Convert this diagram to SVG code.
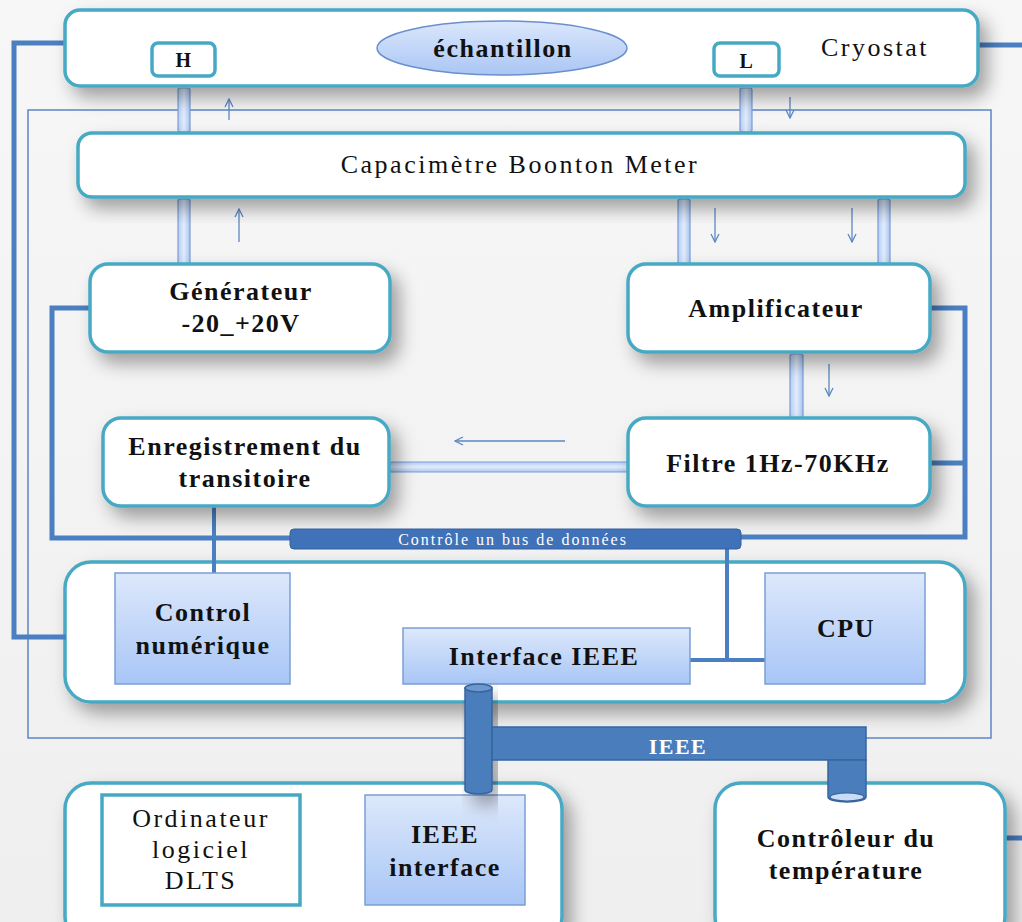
<svg xmlns="http://www.w3.org/2000/svg" width="1022" height="922" viewBox="0 0 1022 922">
<defs>
<linearGradient id="bg" x1="0" y1="0" x2="0" y2="1"><stop offset="0" stop-color="#f7f7f7"/><stop offset="1" stop-color="#efefef"/></linearGradient>
<linearGradient id="blueg" x1="0" y1="0" x2="0" y2="1"><stop offset="0" stop-color="#dde8fb"/><stop offset="1" stop-color="#a8c6f6"/></linearGradient>
<linearGradient id="pill" x1="0" y1="0" x2="1" y2="0"><stop offset="0" stop-color="#b4cdf5"/><stop offset="0.5" stop-color="#e2ecfc"/><stop offset="1" stop-color="#a9c5f2"/></linearGradient>
<linearGradient id="pillh" x1="0" y1="0" x2="0" y2="1"><stop offset="0" stop-color="#b4cdf5"/><stop offset="0.5" stop-color="#e2ecfc"/><stop offset="1" stop-color="#a9c5f2"/></linearGradient>
<linearGradient id="ell" x1="0" y1="0" x2="0" y2="1"><stop offset="0" stop-color="#dbe7fc"/><stop offset="1" stop-color="#aac6f4"/></linearGradient>
<filter id="sh" x="-10%" y="-20%" width="130%" height="160%"><feDropShadow dx="8" dy="10" stdDeviation="9" flood-color="#000" flood-opacity="0.35"/></filter>
<marker id="ah" viewBox="0 0 10 10" refX="9" refY="5" markerWidth="10" markerHeight="10" orient="auto" markerUnits="userSpaceOnUse"><path d="M1,1 L9,5 L1,9" fill="none" stroke="#5b87c5" stroke-width="1.3"/></marker>
<style>
.box{fill:#fff;stroke:#46a9c3;stroke-width:3.5}
.inner{fill:url(#blueg);stroke:#7b9fd5;stroke-width:1.5}
.t{font-family:"Liberation Serif",serif;font-size:26px;fill:#111;text-anchor:middle;letter-spacing:2.5px}
.b{font-weight:bold;letter-spacing:1.5px}
.w{fill:#fff}
.thick{fill:none;stroke:#4a7fc1;stroke-width:5;stroke-linejoin:miter}
.pil{fill:url(#pill);stroke:#7b9fd5;stroke-width:1.2}
.pilh{fill:url(#pillh);stroke:#7b9fd5;stroke-width:1.2}
.arr{stroke:#5b87c5;stroke-width:1.3;fill:none;marker-end:url(#ah)}
.cyl{fill:#4a7dbb;stroke:#38649e;stroke-width:1.5}
</style>
</defs>
<rect width="1022" height="922" fill="url(#bg)"/>

<g id="controle">
<rect class="box" x="65" y="562" width="900" height="140" rx="26" filter="url(#sh)"/>
</g>
<g id="ordinateur-group">
<rect class="box" x="65" y="783" width="497" height="160" rx="26" filter="url(#sh)"/>
</g>

<g id="connectors">
<rect x="28" y="110" width="963" height="628" fill="none" stroke="#5b87c5" stroke-width="1.5"/>
<path class="thick" d="M66,43 H14 V637 H66"/>
<path class="thick" d="M977,45 H1022"/>
<path class="thick" d="M91,308 H52 V538 H292"/>
<path class="thick" d="M929,308 H965 V537 H740"/>
<path class="thick" d="M929,463 H965"/>
<path d="M214,506 V574" stroke="#4a7fc1" stroke-width="4"/>
<path d="M727,549 V660 M690,660 H765" stroke="#4a7fc1" stroke-width="4" fill="none"/>
<path class="thick" d="M1003,838 H1022"/>
<rect class="pil" x="178" y="88" width="12" height="44" rx="2"/>
<rect class="pil" x="740" y="88" width="12" height="44" rx="2"/>
<rect class="pil" x="178" y="199" width="12" height="66" rx="2"/>
<rect class="pil" x="678" y="199" width="12" height="66" rx="2"/>
<rect class="pil" x="878" y="199" width="12" height="66" rx="2"/>
<rect class="pil" x="790" y="354" width="13" height="66" rx="2"/>
<rect class="pilh" x="390" y="462" width="240" height="10" rx="2"/>
<path class="arr" d="M229,120 V99"/>
<path class="arr" d="M790,97 V118"/>
<path class="arr" d="M239,242 V209"/>
<path class="arr" d="M715,208 V242"/>
<path class="arr" d="M852,208 V242"/>
<path class="arr" d="M829,364 V396"/>
<path class="arr" d="M565,441 H455"/>
</g>

<g id="cryostat">
<rect class="box" x="65" y="10" width="913" height="76" rx="15" filter="url(#sh)"/>
<ellipse cx="502" cy="48" rx="125" ry="27" fill="url(#ell)" stroke="#6a8fcc" stroke-width="1.5"/>
<text class="t b" x="503" y="57">échantillon</text>
<rect x="152" y="43" width="63" height="33" rx="6" fill="#fff" stroke="#46a9c3" stroke-width="3.5"/>
<text class="t b" x="184" y="67" style="font-size:20px">H</text>
<rect x="714" y="43" width="65" height="33" rx="6" fill="#fff" stroke="#46a9c3" stroke-width="3.5"/>
<text class="t b" x="747" y="68" style="font-size:20px">L</text>
<text class="t" x="875" y="56">Cryostat</text>
</g>

<g id="capacimetre">
<rect class="box" x="78" y="133" width="887" height="64" rx="14" filter="url(#sh)"/>
<text class="t" x="520" y="173">Capacimètre Boonton Meter</text>
</g>

<g id="generateur">
<rect class="box" x="90" y="264" width="300" height="88" rx="18" filter="url(#sh)"/>
<text class="t b" x="241" y="300">Générateur</text>
<text class="t b" x="241" y="332">-20_+20V</text>
</g>

<g id="amplificateur">
<rect class="box" x="628" y="264" width="302" height="88" rx="18" filter="url(#sh)"/>
<text class="t b" x="776" y="317">Amplificateur</text>
</g>

<g id="enregistrement">
<rect class="box" x="103" y="418" width="286" height="88" rx="18" filter="url(#sh)"/>
<text class="t b" x="245" y="455">Enregistrement du</text>
<text class="t b" x="245" y="487">transitoire</text>
</g>

<g id="filtre">
<rect class="box" x="628" y="418" width="302" height="88" rx="18" filter="url(#sh)"/>
<text class="t b" x="778" y="472">Filtre 1Hz-70KHz</text>
</g>

<g id="bus">
<rect x="290" y="529" width="451" height="20" rx="4" fill="#3f72b8" stroke="#35619e" stroke-width="1"/>
<text class="t w" x="513" y="545" style="font-size:16px;letter-spacing:2px">Contrôle un bus de données</text>
</g>

<g id="control-numerique">
<rect class="inner" x="115" y="573" width="175" height="111"/>
<text class="t b" x="203" y="621">Control</text>
<text class="t b" x="203" y="654">numérique</text>
</g>
<g id="interface-ieee">
<rect class="inner" x="403" y="628" width="287" height="56"/>
<text class="t b" x="544" y="665">Interface IEEE</text>
</g>
<g id="cpu">
<rect class="inner" x="765" y="573" width="160" height="111"/>
<text class="t b" x="846" y="637">CPU</text>
</g>

<g id="ordinateur">
<rect x="102" y="795" width="198" height="110" fill="#fff" stroke="#46a9c3" stroke-width="3.5"/>
<text class="t" x="201" y="827">Ordinateur</text>
<text class="t" x="201" y="858">logiciel</text>
<text class="t" x="201" y="889">DLTS</text>
</g>
<g id="ieee-interface">
<rect class="inner" x="365" y="795" width="160" height="110"/>
<text class="t b" x="445" y="843">IEEE</text>
<text class="t b" x="445" y="876">interface</text>
</g>

<g id="controleur-temperature">
<rect class="box" x="715" y="783" width="290" height="160" rx="26" filter="url(#sh)"/>
<text class="t b" x="846" y="847">Contrôleur du</text>
<text class="t b" x="846" y="879">température</text>
</g>

<g id="ieee-bus">
<path class="cyl" d="M465,688 V790 A13.5,4 0 0 0 492,790 V688 Z" filter="url(#sh)"/>
<ellipse cx="478.5" cy="688" rx="13.5" ry="4" fill="#6d97cf" stroke="#38649e" stroke-width="1.5"/>
<rect class="cyl" x="492" y="727" width="374" height="33"/>
<path class="cyl" d="M828,760 V797 A19,5 0 0 0 866,797 V760 Z"/>
<ellipse cx="847" cy="797" rx="17" ry="4" fill="#c9dcf7" stroke="#38649e" stroke-width="1.2"/>
<text class="t b w" x="678" y="754" style="font-size:22px">IEEE</text>
</g>
</svg>
